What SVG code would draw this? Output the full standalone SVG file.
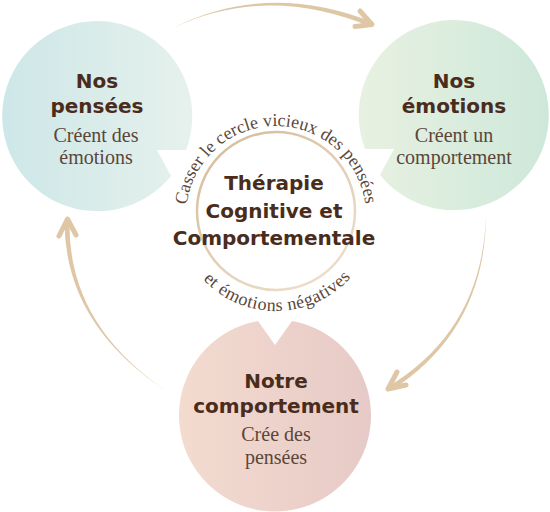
<svg xmlns="http://www.w3.org/2000/svg" width="550" height="512" viewBox="0 0 550 512">
<defs>
<linearGradient id="gBlue" x1="0" y1="0" x2="1" y2="0"><stop offset="0" stop-color="#cde7e8"/><stop offset="1" stop-color="#e6f1ec"/></linearGradient>
<linearGradient id="gGreen" x1="0" y1="0" x2="1" y2="0"><stop offset="0" stop-color="#e8f1e1"/><stop offset="1" stop-color="#cde8da"/></linearGradient>
<linearGradient id="gPink" x1="0" y1="0" x2="1" y2="0"><stop offset="0" stop-color="#f3dbcf"/><stop offset="1" stop-color="#e7cac7"/></linearGradient>
<linearGradient id="gRing" gradientUnits="userSpaceOnUse" x1="220" y1="140" x2="330" y2="290"><stop offset="0" stop-color="#d6bd9c"/><stop offset="1" stop-color="#eee0cd"/></linearGradient>
<path id="arcTop" d="M186,216 A90,90 0 0 1 366,216"/>
<path id="arcBot" d="M176,211 A100,100 0 0 0 376,211"/>
</defs>
<style>
.title{font-family:"DejaVu Sans","Liberation Sans",sans-serif;font-weight:bold;font-size:20px;fill:#4a2c1c;text-anchor:middle}
.sub{font-family:"Liberation Serif",serif;font-size:20px;fill:#5b463a;text-anchor:middle}
.curve{font-family:"Liberation Serif",serif;fill:#5b463a;font-size:18px}
.shaft{fill:#dfc7a6}
.head{fill:none;stroke:#dfc7a6;stroke-width:5;stroke-linecap:round;stroke-linejoin:round}
</style>
<g id="connectors">
<path class="shaft" d="M173,28 Q267,-19.5 373.9,22.7 L372.1,27.3 Q267,-16.5 173,28 Z"/>
<polyline class="head" points="360,11 372,24.5 355,26.5"/>
<path class="shaft" d="M486,215 Q485.5,330 390.3,391.1 L387.7,386.9 Q482.5,330 486,215 Z"/>
<polyline class="head" points="397,372 388,389 406,385"/>
<path class="shaft" d="M168,392 Q64.5,325 64.5,221 L69.5,221 Q67.5,325 168,392 Z"/>
<polyline class="head" points="59,236 67.5,219 76,235"/>
</g>
<g id="node-pensees">
<path d="M186,150 L157,150 L171,176 A95,95 0 1 1 186,150 Z" fill="url(#gBlue)"/>
<text class="title" x="97" y="88">Nos</text>
<text class="title" x="97" y="113">pensées</text>
<text class="sub" x="96" y="142">Créent des</text>
<text class="sub" x="96" y="164">émotions</text>
</g>
<g id="node-emotions">
<path d="M365,149 L394,149 L380,175 A95,95 0 1 0 365,149 Z" fill="url(#gGreen)"/>
<text class="title" x="454" y="88">Nos</text>
<text class="title" x="454" y="113">émotions</text>
<text class="sub" x="454" y="142">Créent un</text>
<text class="sub" x="454" y="164">comportement</text>
</g>
<g id="node-comportement">
<path d="M258,321 L275,345 L292,321 A96,96 0 1 1 258,321 Z" fill="url(#gPink)"/>
<text class="title" x="276" y="388">Notre</text>
<text class="title" x="276" y="413">comportement</text>
<text class="sub" x="276" y="441">Crée des</text>
<text class="sub" x="276" y="464">pensées</text>
</g>
<g id="node-tcc">
<circle cx="276" cy="211" r="79" fill="none" stroke="url(#gRing)" stroke-width="2.5"/>
<text class="curve"><textPath href="#arcTop" startOffset="11">Casser le</textPath></text>
<text class="curve"><textPath href="#arcTop" startOffset="81">cercle vicieux des</textPath></text>
<text class="curve"><textPath href="#arcTop" startOffset="214.5">pensées</textPath></text>
<text class="curve" font-size="19" letter-spacing="0.5" text-anchor="middle"><textPath href="#arcBot" startOffset="50.5%">et émotions négatives</textPath></text>
<text class="title" x="274" y="190">Thérapie</text>
<text class="title" x="274" y="217.5">Cognitive et</text>
<text class="title" x="274" y="245">Comportementale</text>
</g>
</svg>
